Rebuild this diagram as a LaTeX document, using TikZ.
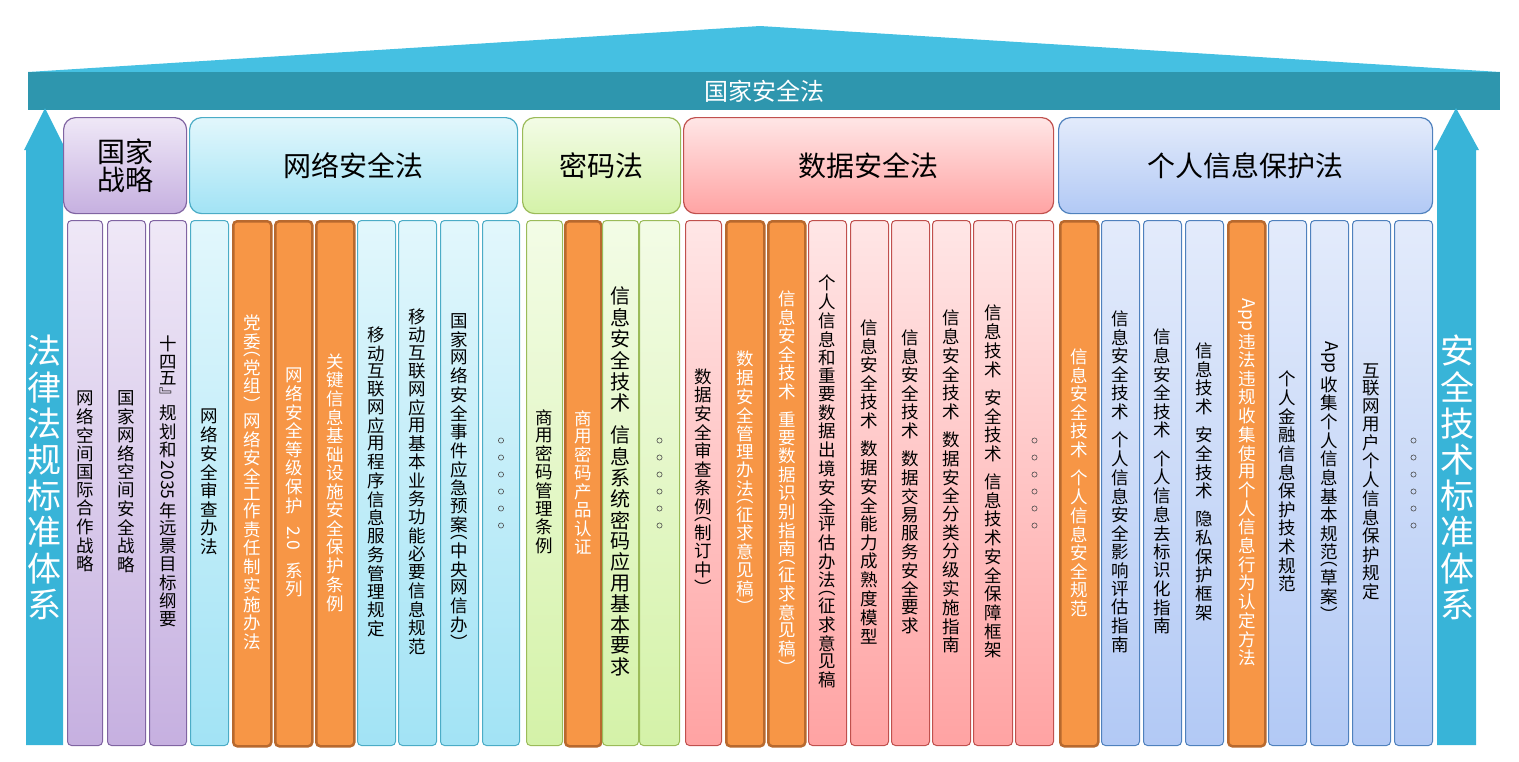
\documentclass[tikz,border=0pt]{standalone}
\usepackage{fontspec}
\usepackage{graphicx}
\setmainfont{Noto Sans CJK SC}
\definecolor{pB}{HTML}{8064A2}\definecolor{pT}{HTML}{EFE8F7}\definecolor{pD}{HTML}{C6B0E0}
\definecolor{cB}{HTML}{4BACC6}\definecolor{cT}{HTML}{E2F7FC}\definecolor{cD}{HTML}{A2E3F5}
\definecolor{gB}{HTML}{9BBB59}\definecolor{gT}{HTML}{F3FCE6}\definecolor{gD}{HTML}{D4F2A8}
\definecolor{rB}{HTML}{C0504D}\definecolor{rT}{HTML}{FFE6E6}\definecolor{rD}{HTML}{FFA3A3}
\definecolor{bB}{HTML}{4F81BD}\definecolor{bT}{HTML}{E3EBFB}\definecolor{bD}{HTML}{B2C9F5}
\definecolor{oF}{HTML}{F79646}\definecolor{oB}{HTML}{B8692E}
\definecolor{arr}{HTML}{38B4D8}\definecolor{band}{HTML}{2E96AE}\definecolor{roof}{HTML}{45C0E2}
\makeatletter
\newcommand\vstk[1]{\vbox{\offinterlineskip\@tfor\vs@c:=#1\do{\hbox to 1.1em{\hss\vs@c\hss}\kern0.15em}}}
\makeatother
\newcommand\rl[1]{\rotatebox{-90}{#1}}
\newcommand\gp{\vrule width0pt height0.4em}
\tikzset{
 p/.style={draw=pB,top color=pT,bottom color=pD},
 c/.style={draw=cB,top color=cT,bottom color=cD},
 g/.style={draw=gB,top color=gT,bottom color=gD},
 r/.style={draw=rB,top color=rT,bottom color=rD},
 b/.style={draw=bB,top color=bT,bottom color=bD},
 o/.style={draw=oB,fill=oF,line width=2.5pt,text=white},
 hd/.style={rounded corners=12pt,line width=1.2pt,anchor=north west,minimum height=96pt,inner sep=0pt,font=\fontsize{28}{32}\selectfont,align=center},
 cl/.style={rounded corners=4pt,line width=1pt,anchor=north west,minimum height=525pt,inner sep=0pt,font=\fontsize{17.5}{20}\selectfont},
}
\newcommand\col[5]{\node[cl,#4,minimum width={(#3-#2)*1pt}] (#1) at (#2,220) {\vstk{#5}};}
\newcommand\mydots[1]{\foreach \k in {-2.5,-1.5,...,2.5}{\draw[black!70,line width=0.6pt] ([yshift={-\k*17pt}]#1.center) circle (2.6pt);}}
\begin{document}
\begin{tikzpicture}[x=1pt,y=-1pt]
\useasboundingbox (0,0) rectangle (1519,761);
% roof
\fill[roof] (28,72) -- (760,26) -- (1500,72) -- cycle;
\node[fill=band,minimum width=1472pt,minimum height=38pt,anchor=north west,inner sep=0pt,text=white,font=\fontsize{24}{26}\selectfont] (roofband) at (28,72) {国家安全法};
% side arrows
\fill[arr] (45,108) -- (66,150) -- (63,150) -- (63,745) -- (26,745) -- (26,150) -- (24,150) -- cycle;
\node[text=white,font=\fontsize{34}{36}\selectfont] (lt) at (44,480) {\vstk{法律法规标准体系}};
\fill[arr] (1456,108) -- (1479,150) -- (1476,150) -- (1476,745) -- (1437,745) -- (1437,150) -- (1434,150) -- cycle;
\node[text=white,font=\fontsize{34}{36}\selectfont] (rt) at (1457,480) {\vstk{安全技术标准体系}};
% headers
\node[hd,p,minimum width=123pt] (h1) at (63,117) {国家\\[-4pt]战略};
\node[hd,c,minimum width=328pt] (h2) at (189,117) {网络安全法};
\node[hd,g,minimum width=158pt] (h3) at (522,117) {密码法};
\node[hd,r,minimum width=370pt] (h4) at (683,117) {数据安全法};
\node[hd,b,minimum width=374pt] (h5) at (1058,117) {个人信息保护法};
% purple
\col{a1}{67}{102}{p}{网络空间国际合作战略}
\col{a2}{107}{145}{p}{国家网络空间安全战略}
\col{a3}{149}{186}{p}{十四五﹄规划和{\rl{2035}}年远景目标纲要}
% cyan
\col{b1}{190}{228}{c}{网络安全审查办法}
\col{b2}{232}{270}{o}{党委︵党组︶网络安全工作责任制实施办法}
\col{b3}{274}{311}{o}{网络安全等级保护\gp{\rl{2.0}}\gp 系列}
\col{b4}{315}{353}{o}{关键信息基础设施安全保护条例}
\col{b5}{357}{395}{c}{移动互联网应用程序信息服务管理规定}
\col{b6}{398}{436}{c}{移动互联网应用基本业务功能必要信息规范}
\col{b7}{440}{478}{c}{国家网络安全事件应急预案︵中央网信办︶}
\col{b8}{482}{519}{c}{}\mydots{b8}
% green
\col{c1}{526}{562}{g}{商用密码管理条例}
\col{c2}{564}{600}{o}{商用密码产品认证}
\node[cl,g,minimum width=36pt] (c3) at (602,220) {\fontsize{20}{22}\selectfont\vstk{信息安全技术\gp 信息系统密码应用基本要求}};
\col{c4}{639}{679}{g}{}\mydots{c4}
% pink
\col{d1}{685}{721}{r}{数据安全审查条例︵制订中︶}
\col{d2}{725}{763}{o}{数据安全管理办法︵征求意见稿︶}
\col{d3}{767}{804}{o}{信息安全技术\gp 重要数据识别指南︵征求意见稿︶}
\col{d4}{808}{846}{r}{个人信息和重要数据出境安全评估办法︵征求意见稿}
\col{d5}{850}{888}{r}{信息安全技术\gp 数据安全能力成熟度模型}
\col{d6}{891}{929}{r}{信息安全技术\gp 数据交易服务安全要求}
\col{d7}{932}{970}{r}{信息安全技术\gp 数据安全分类分级实施指南}
\col{d8}{973}{1012}{r}{信息技术\gp 安全技术\gp 信息技术安全保障框架}
\col{d9}{1015}{1053}{r}{}\mydots{d9}
% blue
\col{e1}{1059}{1097}{o}{信息安全技术\gp 个人信息安全规范}
\col{e2}{1101}{1139}{b}{信息安全技术\gp 个人信息安全影响评估指南}
\col{e3}{1143}{1181}{b}{信息安全技术\gp 个人信息去标识化指南}
\col{e4}{1185}{1223}{b}{信息技术\gp 安全技术\gp 隐私保护框架}
\col{e5}{1227}{1264}{o}{{\rl{App}}违法违规收集使用个人信息行为认定方法}
\col{e6}{1268}{1306}{b}{个人金融信息保护技术规范}
\col{e7}{1310}{1348}{b}{{\rl{App}}收集个人信息基本规范︵草案︶}
\col{e8}{1352}{1390}{b}{互联网用户个人信息保护规定}
\col{e9}{1394}{1432}{b}{}\mydots{e9}
\end{tikzpicture}
\end{document}
